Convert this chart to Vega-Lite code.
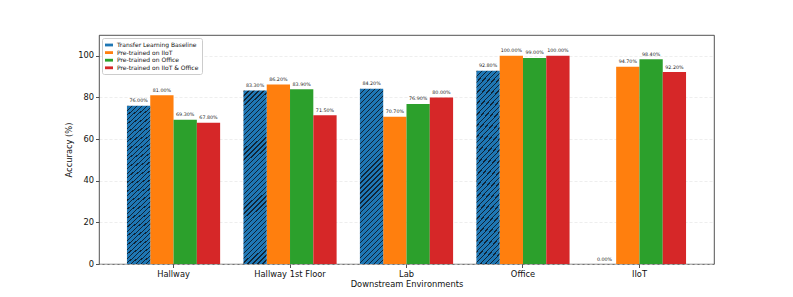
{
  "$schema": "https://vega.github.io/schema/vega-lite/v6.json",
  "width": 615,
  "height": 229,
  "autosize": {"type": "none"},
  "padding": {"left": 99, "top": 35, "right": 79, "bottom": 33},
  "background": "white",
  "data": {
    "values": [
      {"env": "Hallway", "model": "Transfer Learning Baseline", "acc": 76.0},
      {"env": "Hallway", "model": "Pre-trained on IIoT", "acc": 81.0},
      {"env": "Hallway", "model": "Pre-trained on Office", "acc": 69.3},
      {"env": "Hallway", "model": "Pre-trained on IIoT & Office", "acc": 67.8},
      {"env": "Hallway 1st Floor", "model": "Transfer Learning Baseline", "acc": 83.3},
      {"env": "Hallway 1st Floor", "model": "Pre-trained on IIoT", "acc": 86.2},
      {"env": "Hallway 1st Floor", "model": "Pre-trained on Office", "acc": 83.9},
      {"env": "Hallway 1st Floor", "model": "Pre-trained on IIoT & Office", "acc": 71.5},
      {"env": "Lab", "model": "Transfer Learning Baseline", "acc": 84.2},
      {"env": "Lab", "model": "Pre-trained on IIoT", "acc": 70.7},
      {"env": "Lab", "model": "Pre-trained on Office", "acc": 76.9},
      {"env": "Lab", "model": "Pre-trained on IIoT & Office", "acc": 80.0},
      {"env": "Office", "model": "Transfer Learning Baseline", "acc": 92.8},
      {"env": "Office", "model": "Pre-trained on IIoT", "acc": 100.0},
      {"env": "Office", "model": "Pre-trained on Office", "acc": 99.0},
      {"env": "Office", "model": "Pre-trained on IIoT & Office", "acc": 100.0},
      {"env": "IIoT", "model": "Transfer Learning Baseline", "acc": 0.0},
      {"env": "IIoT", "model": "Pre-trained on IIoT", "acc": 94.7},
      {"env": "IIoT", "model": "Pre-trained on Office", "acc": 98.4},
      {"env": "IIoT", "model": "Pre-trained on IIoT & Office", "acc": 92.2}
    ]
  },
  "encoding": {
    "x": {
      "field": "env",
      "type": "nominal",
      "sort": ["Hallway", "Hallway 1st Floor", "Lab", "Office", "IIoT"],
      "scale": {"paddingInner": 0.2, "paddingOuter": 0.24},
      "axis": {"title": "Downstream Environments", "labelAngle": 0, "grid": false, "domain": false, "titlePadding": 2, "labelPadding": 1.5}
    },
    "xOffset": {
      "field": "model",
      "type": "nominal",
      "sort": ["Transfer Learning Baseline", "Pre-trained on IIoT", "Pre-trained on Office", "Pre-trained on IIoT & Office"],
      "scale": {"domain": ["Transfer Learning Baseline", "Pre-trained on IIoT", "Pre-trained on Office", "Pre-trained on IIoT & Office"], "paddingInner": 0, "paddingOuter": 0}
    },
    "y": {
      "field": "acc",
      "type": "quantitative",
      "scale": {"domain": [0, 110], "nice": false, "zero": true},
      "axis": {"title": "Accuracy (%)", "values": [0, 20, 40, 60, 80, 100], "grid": true, "domain": false, "titlePadding": 4, "labelPadding": 2}
    }
  },
  "layer": [
    {
      "transform": [{"filter": "datum.model !== 'Transfer Learning Baseline'"}],
      "mark": {"type": "bar"},
      "encoding": {
        "color": {
          "field": "model",
          "type": "nominal",
          "scale": {
            "domain": ["Transfer Learning Baseline", "Pre-trained on IIoT", "Pre-trained on Office", "Pre-trained on IIoT & Office"],
            "range": ["#1f77b4", "#ff7f0e", "#2ca02c", "#d62728"]
          },
          "legend": {
            "title": null,
            "orient": "none",
            "legendX": 3,
            "legendY": 3,
            "padding": 3,
            "strokeColor": "#cccccc",
            "fillColor": "white",
            "cornerRadius": 2,
            "symbolType": "M-1,-0.35H1V0.35H-1Z",
            "symbolSize": 64,
            "symbolStrokeWidth": 0,
            "symbolOpacity": 1,
            "labelFontSize": 6,
            "labelColor": "#111111",
            "labelOffset": 4,
            "rowPadding": 0.6,
            "encode": {
              "symbols": {
                "update": {
                  "fill": {
                    "condition": {
                      "test": "datum.value === 'Transfer Learning Baseline'",
                      "value": {
                        "gradient": "linear", "x1": 0, "y1": 0, "x2": 1.2027, "y2": 0.421,
                        "stops": [
                          {"offset": 0, "color": "#0f2436"}, {"offset": 0.075, "color": "#0f2436"}, {"offset": 0.075, "color": "#1f77b4"}, {"offset": 0.25, "color": "#1f77b4"},
                          {"offset": 0.25, "color": "#0f2436"}, {"offset": 0.325, "color": "#0f2436"}, {"offset": 0.325, "color": "#1f77b4"}, {"offset": 0.5, "color": "#1f77b4"},
                          {"offset": 0.5, "color": "#0f2436"}, {"offset": 0.575, "color": "#0f2436"}, {"offset": 0.575, "color": "#1f77b4"}, {"offset": 0.75, "color": "#1f77b4"},
                          {"offset": 0.75, "color": "#0f2436"}, {"offset": 0.825, "color": "#0f2436"}, {"offset": 0.825, "color": "#1f77b4"}, {"offset": 1, "color": "#1f77b4"}
                        ]
                      }
                    },
                    "value": {"expr": "scale('color', datum.value)"}
                  }
                }
              }
            }
          }
        }
      }
    },
    {
      "transform": [{"filter": "datum.model === 'Transfer Learning Baseline'"}],
      "mark": {
        "type": "bar",
        "fill": {
          "gradient": "linear", "x1": 0, "y1": 0, "x2": 0.1482, "y2": 1.1134,
          "stops": [
            {"offset": 0, "color": "#0f2436"}, {"offset": 0.00625, "color": "#0f2436"}, {"offset": 0.00625, "color": "#1f77b4"}, {"offset": 0.025, "color": "#1f77b4"},
            {"offset": 0.025, "color": "#0f2436"}, {"offset": 0.03125, "color": "#0f2436"}, {"offset": 0.03125, "color": "#1f77b4"}, {"offset": 0.05, "color": "#1f77b4"},
            {"offset": 0.05, "color": "#0f2436"}, {"offset": 0.05625, "color": "#0f2436"}, {"offset": 0.05625, "color": "#1f77b4"}, {"offset": 0.075, "color": "#1f77b4"},
            {"offset": 0.075, "color": "#0f2436"}, {"offset": 0.08125, "color": "#0f2436"}, {"offset": 0.08125, "color": "#1f77b4"}, {"offset": 0.1, "color": "#1f77b4"},
            {"offset": 0.1, "color": "#0f2436"}, {"offset": 0.10625, "color": "#0f2436"}, {"offset": 0.10625, "color": "#1f77b4"}, {"offset": 0.125, "color": "#1f77b4"},
            {"offset": 0.125, "color": "#0f2436"}, {"offset": 0.13125, "color": "#0f2436"}, {"offset": 0.13125, "color": "#1f77b4"}, {"offset": 0.15, "color": "#1f77b4"},
            {"offset": 0.15, "color": "#0f2436"}, {"offset": 0.15625, "color": "#0f2436"}, {"offset": 0.15625, "color": "#1f77b4"}, {"offset": 0.175, "color": "#1f77b4"},
            {"offset": 0.175, "color": "#0f2436"}, {"offset": 0.18125, "color": "#0f2436"}, {"offset": 0.18125, "color": "#1f77b4"}, {"offset": 0.2, "color": "#1f77b4"},
            {"offset": 0.2, "color": "#0f2436"}, {"offset": 0.20625, "color": "#0f2436"}, {"offset": 0.20625, "color": "#1f77b4"}, {"offset": 0.225, "color": "#1f77b4"},
            {"offset": 0.225, "color": "#0f2436"}, {"offset": 0.23125, "color": "#0f2436"}, {"offset": 0.23125, "color": "#1f77b4"}, {"offset": 0.25, "color": "#1f77b4"},
            {"offset": 0.25, "color": "#0f2436"}, {"offset": 0.25625, "color": "#0f2436"}, {"offset": 0.25625, "color": "#1f77b4"}, {"offset": 0.275, "color": "#1f77b4"},
            {"offset": 0.275, "color": "#0f2436"}, {"offset": 0.28125, "color": "#0f2436"}, {"offset": 0.28125, "color": "#1f77b4"}, {"offset": 0.3, "color": "#1f77b4"},
            {"offset": 0.3, "color": "#0f2436"}, {"offset": 0.30625, "color": "#0f2436"}, {"offset": 0.30625, "color": "#1f77b4"}, {"offset": 0.325, "color": "#1f77b4"},
            {"offset": 0.325, "color": "#0f2436"}, {"offset": 0.33125, "color": "#0f2436"}, {"offset": 0.33125, "color": "#1f77b4"}, {"offset": 0.35, "color": "#1f77b4"},
            {"offset": 0.35, "color": "#0f2436"}, {"offset": 0.35625, "color": "#0f2436"}, {"offset": 0.35625, "color": "#1f77b4"}, {"offset": 0.375, "color": "#1f77b4"},
            {"offset": 0.375, "color": "#0f2436"}, {"offset": 0.38125, "color": "#0f2436"}, {"offset": 0.38125, "color": "#1f77b4"}, {"offset": 0.4, "color": "#1f77b4"},
            {"offset": 0.4, "color": "#0f2436"}, {"offset": 0.40625, "color": "#0f2436"}, {"offset": 0.40625, "color": "#1f77b4"}, {"offset": 0.425, "color": "#1f77b4"},
            {"offset": 0.425, "color": "#0f2436"}, {"offset": 0.43125, "color": "#0f2436"}, {"offset": 0.43125, "color": "#1f77b4"}, {"offset": 0.45, "color": "#1f77b4"},
            {"offset": 0.45, "color": "#0f2436"}, {"offset": 0.45625, "color": "#0f2436"}, {"offset": 0.45625, "color": "#1f77b4"}, {"offset": 0.475, "color": "#1f77b4"},
            {"offset": 0.475, "color": "#0f2436"}, {"offset": 0.48125, "color": "#0f2436"}, {"offset": 0.48125, "color": "#1f77b4"}, {"offset": 0.5, "color": "#1f77b4"},
            {"offset": 0.5, "color": "#0f2436"}, {"offset": 0.50625, "color": "#0f2436"}, {"offset": 0.50625, "color": "#1f77b4"}, {"offset": 0.525, "color": "#1f77b4"},
            {"offset": 0.525, "color": "#0f2436"}, {"offset": 0.53125, "color": "#0f2436"}, {"offset": 0.53125, "color": "#1f77b4"}, {"offset": 0.55, "color": "#1f77b4"},
            {"offset": 0.55, "color": "#0f2436"}, {"offset": 0.55625, "color": "#0f2436"}, {"offset": 0.55625, "color": "#1f77b4"}, {"offset": 0.575, "color": "#1f77b4"},
            {"offset": 0.575, "color": "#0f2436"}, {"offset": 0.58125, "color": "#0f2436"}, {"offset": 0.58125, "color": "#1f77b4"}, {"offset": 0.6, "color": "#1f77b4"},
            {"offset": 0.6, "color": "#0f2436"}, {"offset": 0.60625, "color": "#0f2436"}, {"offset": 0.60625, "color": "#1f77b4"}, {"offset": 0.625, "color": "#1f77b4"},
            {"offset": 0.625, "color": "#0f2436"}, {"offset": 0.63125, "color": "#0f2436"}, {"offset": 0.63125, "color": "#1f77b4"}, {"offset": 0.65, "color": "#1f77b4"},
            {"offset": 0.65, "color": "#0f2436"}, {"offset": 0.65625, "color": "#0f2436"}, {"offset": 0.65625, "color": "#1f77b4"}, {"offset": 0.675, "color": "#1f77b4"},
            {"offset": 0.675, "color": "#0f2436"}, {"offset": 0.68125, "color": "#0f2436"}, {"offset": 0.68125, "color": "#1f77b4"}, {"offset": 0.7, "color": "#1f77b4"},
            {"offset": 0.7, "color": "#0f2436"}, {"offset": 0.70625, "color": "#0f2436"}, {"offset": 0.70625, "color": "#1f77b4"}, {"offset": 0.725, "color": "#1f77b4"},
            {"offset": 0.725, "color": "#0f2436"}, {"offset": 0.73125, "color": "#0f2436"}, {"offset": 0.73125, "color": "#1f77b4"}, {"offset": 0.75, "color": "#1f77b4"},
            {"offset": 0.75, "color": "#0f2436"}, {"offset": 0.75625, "color": "#0f2436"}, {"offset": 0.75625, "color": "#1f77b4"}, {"offset": 0.775, "color": "#1f77b4"},
            {"offset": 0.775, "color": "#0f2436"}, {"offset": 0.78125, "color": "#0f2436"}, {"offset": 0.78125, "color": "#1f77b4"}, {"offset": 0.8, "color": "#1f77b4"},
            {"offset": 0.8, "color": "#0f2436"}, {"offset": 0.80625, "color": "#0f2436"}, {"offset": 0.80625, "color": "#1f77b4"}, {"offset": 0.825, "color": "#1f77b4"},
            {"offset": 0.825, "color": "#0f2436"}, {"offset": 0.83125, "color": "#0f2436"}, {"offset": 0.83125, "color": "#1f77b4"}, {"offset": 0.85, "color": "#1f77b4"},
            {"offset": 0.85, "color": "#0f2436"}, {"offset": 0.85625, "color": "#0f2436"}, {"offset": 0.85625, "color": "#1f77b4"}, {"offset": 0.875, "color": "#1f77b4"},
            {"offset": 0.875, "color": "#0f2436"}, {"offset": 0.88125, "color": "#0f2436"}, {"offset": 0.88125, "color": "#1f77b4"}, {"offset": 0.9, "color": "#1f77b4"},
            {"offset": 0.9, "color": "#0f2436"}, {"offset": 0.90625, "color": "#0f2436"}, {"offset": 0.90625, "color": "#1f77b4"}, {"offset": 0.925, "color": "#1f77b4"},
            {"offset": 0.925, "color": "#0f2436"}, {"offset": 0.93125, "color": "#0f2436"}, {"offset": 0.93125, "color": "#1f77b4"}, {"offset": 0.95, "color": "#1f77b4"},
            {"offset": 0.95, "color": "#0f2436"}, {"offset": 0.95625, "color": "#0f2436"}, {"offset": 0.95625, "color": "#1f77b4"}, {"offset": 0.975, "color": "#1f77b4"},
            {"offset": 0.975, "color": "#0f2436"}, {"offset": 0.98125, "color": "#0f2436"}, {"offset": 0.98125, "color": "#1f77b4"}, {"offset": 1, "color": "#1f77b4"}
          ]
        }
      }
    },
    {
      "transform": [{"calculate": "format(datum.acc, '.2f') + '%'", "as": "label"}],
      "mark": {"type": "text", "baseline": "bottom", "dy": -2.5, "fontSize": 4.8, "color": "#222222"},
      "encoding": {"text": {"field": "label"}}
    }
  ],
  "config": {
    "font": "DejaVu Sans",
    "view": {"stroke": "#262626", "strokeWidth": 0.8},
    "axis": {
      "labelFont": "DejaVu Sans",
      "titleFont": "DejaVu Sans",
      "labelFontSize": 8.3,
      "titleFontSize": 8.3,
      "titleFontWeight": "normal",
      "labelColor": "#111111",
      "titleColor": "#111111",
      "tickColor": "#262626",
      "tickSize": 3.5,
      "tickWidth": 0.8,
      "gridColor": "#e2e2e2",
      "gridDash": [3, 2],
      "gridWidth": 0.6
    },
    "legend": {"labelFont": "DejaVu Sans"}
  }
}
